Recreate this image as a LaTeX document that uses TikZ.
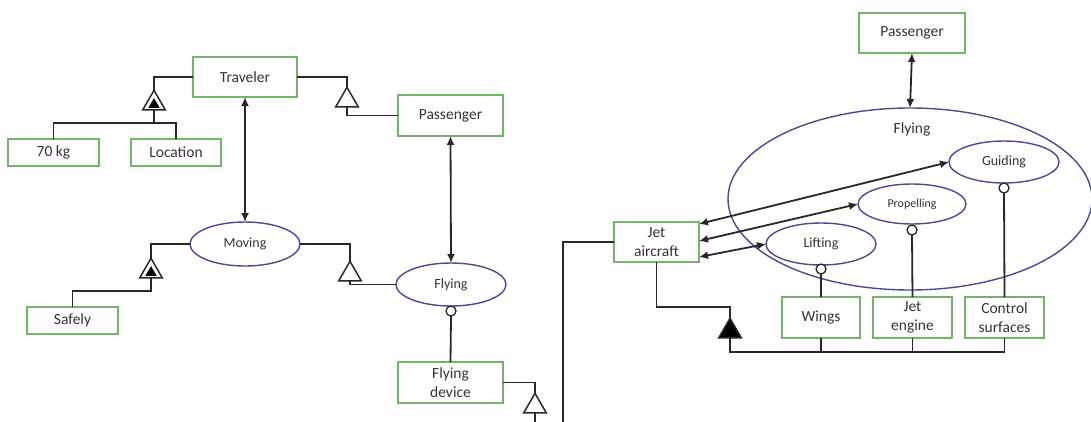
\documentclass[tikz,border=0pt]{standalone}
\usepackage{fontspec}
\setmainfont{Carlito}
\usetikzlibrary{arrows.meta,shapes.geometric}
\definecolor{boxgreen}{RGB}{112,182,102}
\definecolor{ellblue}{RGB}{72,74,150}
\definecolor{linegray}{RGB}{40,40,40}
\begin{document}
\begin{tikzpicture}[x=1pt,y=-1pt,
  obj/.style={draw=boxgreen,line width=1.5pt,rectangle,inner sep=0pt,outer sep=0pt,
     font=\fontsize{15.5}{19}\selectfont,text=black!80,align=center},
  proc/.style={draw=ellblue,line width=1.4pt,ellipse,inner sep=0pt,outer sep=0pt,
     font=\fontsize{14}{16}\selectfont,text=black!80},
  conn/.style={draw=linegray,line width=1.8pt},
  biarrow/.style={conn,{Latex[length=9pt,width=8pt]}-{Latex[length=9pt,width=8pt]}},
  tri/.style={regular polygon,regular polygon sides=3,minimum size=26pt,inner sep=0pt,outer sep=0pt,
     draw=linegray,line width=1.5pt,fill=white},
  trifill/.style={tri,fill=black},
  trisub/.style={regular polygon,regular polygon sides=3,minimum size=13pt,inner sep=0pt,outer sep=0pt,fill=black},
  knob/.style={circle,draw=linegray,line width=1.3pt,fill=white,minimum size=10pt,inner sep=0pt,outer sep=0pt}
]
\useasboundingbox (0,0) rectangle (1091,421);

% ---------------- left diagram ----------------
\node[obj,minimum width=104pt,minimum height=40pt] (trav) at (245,77) {Traveler};
\node[obj,minimum width=91pt,minimum height=27pt] (kg) at (53.5,152.5) {70 kg};
\node[obj,minimum width=90pt,minimum height=27pt] (loc) at (176,152.5) {Location};
\node[obj,minimum width=105pt,minimum height=41pt] (passL) at (450.5,115.5) {Passenger};
\node[obj,minimum width=91pt,minimum height=27pt] (safe) at (72.5,320.5) {Safely};
\node[obj,minimum width=105pt,minimum height=41pt] (fdev) at (450.5,382.5) {Flying\\device};

\node[proc,minimum width=110pt,minimum height=44pt] (moving) at (245,244) {Moving};
\node[proc,minimum width=110pt,minimum height=43pt] (flyL) at (451,284.5) {Flying};

\node[tri] (t1) at (154,103.3) {};
\node[trisub] (t1s) at (154,104.5) {};
\node[tri] (t2) at (347,100.3) {};
\node[tri] (t3) at (151,271.3) {};
\node[trisub] (t3s) at (151,272.5) {};
\node[tri] (t4) at (350,274.3) {};
\node[tri] (t5) at (535,406.3) {};
\node[knob] (c1) at (451,311) {};

\coordinate (j1) at (154,123);
\coordinate (tail5) at (535,424);

\draw[conn] (trav.west) -| (t1.corner 1);
\draw[conn] (t1.side 2) -- (j1);
\draw[conn] (kg.north) -- (kg.north |- j1) -- (loc.north |- j1) -- (loc.north);
\draw[conn] (trav.east) -| (t2.corner 1);
\draw[conn] (t2.side 2) |- (passL.west);
\draw[biarrow] (trav.south) -- (moving.north);
\draw[biarrow] (passL.south) -- (flyL.north);
\draw[conn] (moving.west) -| (t3.corner 1);
\draw[conn] (t3.side 2) -- ++(0,13) -| (safe.north);
\draw[conn] (moving.east) -| (t4.corner 1);
\draw[conn] (t4.side 2) |- (flyL.west);
\draw[conn] (c1.south) -- (fdev.north);
\draw[conn] (fdev.east) -| (t5.corner 1);
\draw[conn] (t5.side 2) -- (tail5);

% ---------------- right diagram ----------------
\node[obj,minimum width=106pt,minimum height=40pt] (passR) at (912,33) {Passenger};
\node[proc,minimum width=364pt,minimum height=182pt] (flyR) at (910,199) {};
\node[font=\fontsize{15.5}{17}\selectfont,text=black!80,inner sep=0pt] (flyRlabel) at (912,129) {Flying};
\node[proc,minimum width=110pt,minimum height=42pt] (guid) at (1004,162) {Guiding};
\node[proc,minimum width=108pt,minimum height=40pt,font=\fontsize{12}{14}\selectfont] (prop) at (912,204) {Propelling};
\node[proc,minimum width=110pt,minimum height=42pt] (lift) at (821,244) {Lifting};
\node[obj,minimum width=85pt,minimum height=40pt] (jet) at (656.5,242) {Jet\\aircraft};
\node[obj,minimum width=78pt,minimum height=41pt] (wings) at (821,317.5) {Wings};
\node[obj,minimum width=79pt,minimum height=41pt] (jeng) at (912.5,317.5) {Jet\\engine};
\node[obj,minimum width=79pt,minimum height=41pt] (ctrl) at (1004.5,317.5) {Control\\surfaces};
\node[knob] (c2) at (821,269) {};
\node[knob] (c3) at (912,230) {};
\node[knob] (c4) at (1004,188) {};
\node[trifill] (t6) at (730,331.3) {};

\coordinate (bl) at (563,424);
\coordinate (j6) at (730,352);

\draw[biarrow] (passR.south) -- (flyR.north);
\draw[biarrow] ([yshift=18pt]jet.east) -- (guid.west);
\draw[biarrow] ([yshift=1pt]jet.east) -- (prop.west);
\draw[biarrow] ([yshift=-15pt]jet.east) -- (lift.west);
\draw[conn] (jet.west) -| (bl);
\draw[conn] (jet.south) -- ++(0,45) -| (t6.corner 1);
\draw[conn] (t6.side 2) -- (j6) -- (ctrl.south |- j6) -- (ctrl.south);
\draw[conn] (wings.south) -- (wings.south |- j6);
\draw[conn] (jeng.south) -- (jeng.south |- j6);
\draw[conn] (c2.south) -- (wings.north);
\draw[conn] (c3.south) -- (jeng.north);
\draw[conn] (c4.south) -- (ctrl.north);
\end{tikzpicture}
\end{document}
